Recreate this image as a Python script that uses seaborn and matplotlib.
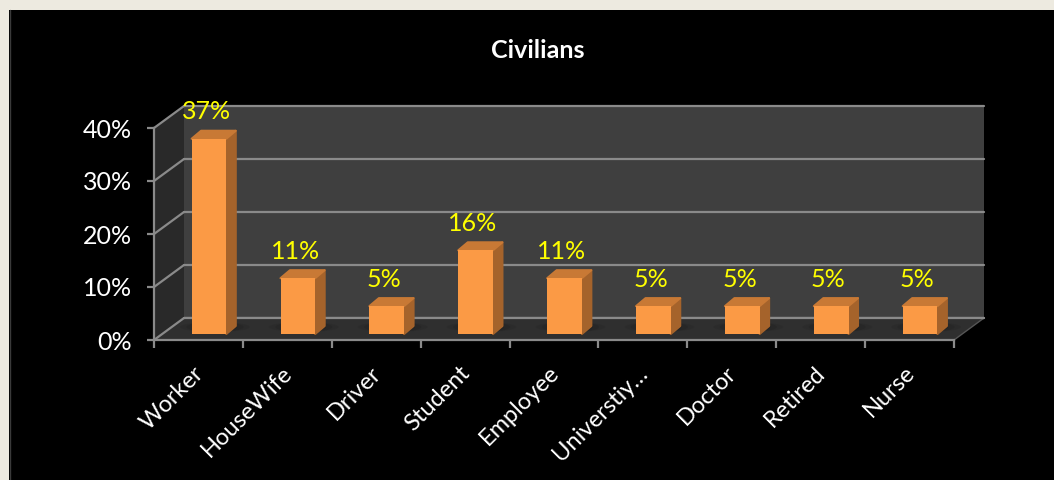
import matplotlib
matplotlib.use("Agg")
import matplotlib.pyplot as plt
import seaborn as sns
import pandas as pd
from matplotlib.patches import Polygon, Rectangle, Ellipse
from matplotlib.lines import Line2D
from matplotlib.transforms import IdentityTransform, ScaledTranslation

title = "Civilians"
categories = ["Worker", "HouseWife", "Driver", "Student", "Employee",
              "Universtiy…", "Doctor", "Retired", "Nurse"]
values = [36.84, 10.53, 5.26, 15.79, 10.53, 5.26, 5.26, 5.26, 5.26]
y_ticks = [0, 10, 20, 30, 40]

W, H = 1054, 480
FONT = "Lato"
sns.set_theme(style="dark")
plt.rcParams["font.family"] = [FONT, "DejaVu Sans"]

fig = plt.figure(figsize=(W / 100, H / 100), dpi=100, facecolor="#EDEAE0")
ident = IdentityTransform()


def rect(l, t, r, b):
    return [l / W, 1 - b / H, (r - l) / W, (b - t) / H]


fig.add_artist(Rectangle((9 / W, 0), 1 - 9 / W, 1 - 10 / H, transform=fig.transFigure,
                         fc="black", ec="none", zorder=-5))
fig.add_artist(Line2D([9.5 / W] * 2, [0, 1 - 10 / H], transform=fig.transFigure,
                      color="#3a3a3a", lw=1, zorder=-4))

FL, FR, FT, FB = 154, 954, 128, 340   # front plane
DX, DY = 30, 22                       # depth of the chart box
GRID = "#8a8a8a"

# back wall
back = fig.add_axes(rect(FL + DX, FT - DY, FR + DX, FB - DY), zorder=1)
back.set_facecolor("#3f3f3f")
back.set_xlim(0, 1)
back.set_ylim(0, 40)
back.set_yticks(y_ticks)
back.set_xticks([])
back.set_yticklabels([])
back.tick_params(length=0)
back.grid(axis="y", color=GRID, lw=1.6)
for s in back.spines.values():
    s.set_visible(False)
for c in back.get_ygridlines():
    c.set_clip_on(False)

# bars, on the plane a little behind the front axis
OX, OY = 10.5, 6
bars = fig.add_axes(rect(FL + OX, FT - OY, FR + OX, FB - OY), zorder=3)
bars.patch.set_alpha(0)
df = pd.DataFrame({"category": categories, "value": values})
sns.barplot(data=df, x="category", y="value", color="#FB9A45", saturation=1,
            width=0.39, ax=bars, zorder=3, linewidth=0, errorbar=None)
bars.set_xlim(-0.5, 8.5)
bars.set_ylim(0, 40)
bars.axis("off")
fig.canvas.draw()

# front axis
ax = fig.add_axes(rect(FL, FT, FR, FB), zorder=4)
ax.patch.set_alpha(0)
ax.set_xlim(-0.5, 8.5)
ax.set_ylim(0, 40)
ax.set_yticks(y_ticks)
ax.set_yticklabels([f"{v}%" for v in y_ticks], color="white", fontsize=18)
ax.set_xticks(range(len(categories)))
ax.set_xticklabels(categories, color="white", fontsize=17, rotation=45,
                   ha="right", rotation_mode="anchor")
ax.set_xticks([i - 0.5 for i in range(len(categories) + 1)], minor=True)
ax.tick_params(axis="x", which="major", length=0, pad=16, bottom=False)
ax.tick_params(axis="x", which="minor", length=6, width=1.6, color=GRID, bottom=True)
ax.tick_params(axis="y", length=5, width=1.6, color=GRID, pad=11, left=True)
shift = ScaledTranslation(-6 / 100, 0, fig.dpi_scale_trans)
for lab in ax.get_xticklabels():
    lab.set_transform(lab.get_transform() + shift)
for name, s in ax.spines.items():
    s.set_visible(name in ("left", "bottom"))
    s.set_color(GRID)
    s.set_linewidth(1.6)

# side wall and floor, from the front axis scale
fig.canvas.draw()
to_px = ax.transData.transform
(x0, y0) = to_px((-0.5, 0))
(x1, y1) = to_px((8.5, 0))
(_, y4) = to_px((-0.5, 40))
fig.add_artist(Polygon([(x0, y0), (x0 + DX, y0 + DY), (x0 + DX, y4 + DY), (x0, y4)],
                       transform=ident, fc="#292929", ec="none", zorder=0.5))
fig.add_artist(Polygon([(x0, y0), (x1, y0), (x1 + DX, y0 + DY), (x0 + DX, y0 + DY)],
                       transform=ident, fc="#2f2f2f", ec="none", zorder=1.5))
for v in y_ticks:
    _, yv = to_px((-0.5, v))
    fig.add_artist(Line2D([x0, x0 + DX], [yv, yv + DY], transform=ident,
                          color=GRID, lw=1.6, zorder=1.6))
fig.add_artist(Line2D([x1, x1 + DX], [y0, y0 + DY], transform=ident,
                      color="#555555", lw=1, zorder=1.6))
fig.add_artist(Line2D([x0 + DX, x1 + DX], [y0 + DY, y0 + DY], transform=ident,
                      color=GRID, lw=1.6, zorder=1.6))

# 3D faces of each bar, shadows and labels
bdx, bdy = 9.5, 8
for patch, v in zip(bars.patches, values):
    l, b = bars.transData.transform((patch.get_x(), 0))
    r, t = bars.transData.transform((patch.get_x() + patch.get_width(), patch.get_height()))
    for grow, a in ((22, 0.10), (14, 0.14), (6, 0.2)):
        fig.add_artist(Ellipse(((l + r) / 2 + 6, b + 7), r - l + grow * 1.6, 10, transform=ident,
                               fc="#111111", ec="none", alpha=a, zorder=1.7))
    fig.add_artist(Polygon([(r, b), (r + bdx, b + bdy), (r + bdx, t + bdy), (r, t)],
                           transform=ident, fc="#A5632B", ec="#A5632B", lw=1.5,
                           joinstyle="round", zorder=2.5))
    fig.add_artist(Polygon([(l, t), (r, t), (r + bdx, t + bdy), (l + bdx, t + bdy)],
                           transform=ident, fc="#C87935", ec="#C87935", lw=1.5,
                           joinstyle="round", zorder=2.5))
    bars.annotate(f"{v:.0f}%", (patch.get_x() + patch.get_width() / 2, v),
                  xytext=(-2, 11), textcoords="offset points", ha="center", va="bottom",
                  color="#FFFF00", fontsize=18, annotation_clip=False, zorder=6)

fig.text(538 / W, 1 - 50 / H, title, color="white", fontsize=18, fontweight="bold",
         ha="center", va="center")

fig.savefig("out.png", dpi=100, facecolor=fig.get_facecolor())
